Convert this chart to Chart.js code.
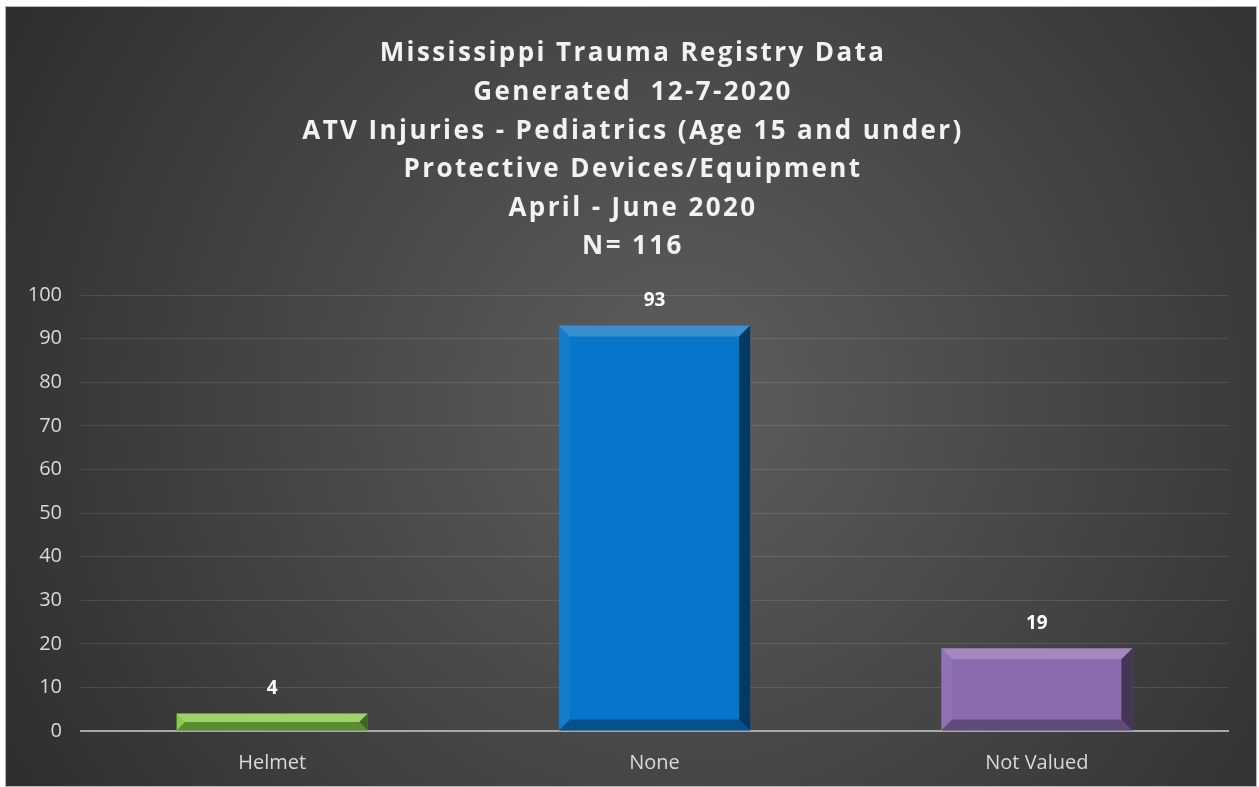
<!DOCTYPE html>
<html>
<head>
<meta charset="utf-8">
<script src="https://cdn.jsdelivr.net/npm/chart.js@4.4.1/dist/chart.umd.min.js"></script>
<style>
  html, body { margin: 0; padding: 0; background: #fff; }
  #wrap { position: absolute; left: 5px; top: 6px; width: 1252px; height: 781px; box-sizing: border-box; border: 1px solid #b5b5b5; }
  canvas { display: block; }
</style>
</head>
<body>
<div id="wrap"><canvas id="chart"></canvas></div>
<script>
// chart data
const categories = ['Helmet', 'None', 'Not Valued'];
const counts = [4, 93, 19];
const barColors = ['#84c846', '#0775c9', '#8a6bad'];
const yTicks = [0, 10, 20, 30, 40, 50, 60, 70, 80, 90, 100];
const titleLines = [
    'Mississippi Trauma Registry Data',
    'Generated  12-7-2020',
    'ATV Injuries - Pediatrics (Age 15 and under)',
    'Protective Devices/Equipment',
    'April - June 2020',
    'N= 116'
];

const FONT = '"Open Sans", "Liberation Sans", sans-serif';

// dark radial background behind everything
const backgroundPlugin = {
    id: 'bg',
    beforeDraw(chart) {
        const ctx = chart.ctx;
        const w = chart.width, h = chart.height;
        const g = ctx.createRadialGradient(w * 0.54, h * 0.5, 0, w * 0.54, h * 0.5, w * 0.62);
        g.addColorStop(0, '#5e5e5e');
        g.addColorStop(1, '#2e2e2e');
        ctx.save();
        ctx.fillStyle = g;
        ctx.fillRect(0, 0, w, h);
        ctx.restore();
    }
};

// title with letter spacing (Chart.js title has no letterSpacing option)
const titlePlugin = {
    id: 'spacedTitle',
    afterDraw(chart) {
        const ctx = chart.ctx;
        ctx.save();
        ctx.fillStyle = '#f2f2f2';
        ctx.font = 'bold 26px ' + FONT;
        ctx.letterSpacing = '2.4px';
        ctx.textAlign = 'center';
        ctx.textBaseline = 'middle';
        titleLines.forEach((line, i) => {
            ctx.fillText(line, chart.width / 2 + 2, 47 + i * 38.6);
        });
        ctx.restore();
    }
};

// bevel edges and value labels on the bars
const bevelPlugin = {
    id: 'bevel',
    afterDatasetsDraw(chart) {
        const ctx = chart.ctx;
        const meta = chart.getDatasetMeta(0);
        meta.data.forEach((bar, i) => {
            const l = bar.x - bar.width / 2, r = bar.x + bar.width / 2;
            const t = bar.y, b = bar.base;
            const s = Math.min(11, (b - t) / 2);
            ctx.save();
            // top
            ctx.fillStyle = 'rgba(255,255,255,0.2)';
            ctx.beginPath();
            ctx.moveTo(l, t); ctx.lineTo(r, t); ctx.lineTo(r - s, t + s); ctx.lineTo(l + s, t + s);
            ctx.fill();
            // left
            ctx.fillStyle = 'rgba(255,255,255,0.05)';
            ctx.beginPath();
            ctx.moveTo(l, t); ctx.lineTo(l + s, t + s); ctx.lineTo(l + s, b - s); ctx.lineTo(l, b);
            ctx.fill();
            // right
            ctx.fillStyle = 'rgba(0,0,0,0.5)';
            ctx.beginPath();
            ctx.moveTo(r, t); ctx.lineTo(r, b); ctx.lineTo(r - s, b - s); ctx.lineTo(r - s, t + s);
            ctx.fill();
            // bottom
            ctx.fillStyle = 'rgba(0,0,0,0.3)';
            ctx.beginPath();
            ctx.moveTo(l, b); ctx.lineTo(r, b); ctx.lineTo(r - s, b - s); ctx.lineTo(l + s, b - s);
            ctx.fill();
            // value label
            ctx.fillStyle = '#ffffff';
            ctx.font = 'bold 19px ' + FONT;
            ctx.textAlign = 'center';
            ctx.textBaseline = 'middle';
            ctx.fillText(String(counts[i]), bar.x, t - 25);
            ctx.restore();
        });
    }
};

new Chart(document.getElementById('chart'), {
    type: 'bar',
    data: {
        labels: categories,
        datasets: [{
            data: counts,
            backgroundColor: barColors,
            borderWidth: 0,
            barPercentage: 0.5,
            categoryPercentage: 1.0
        }]
    },
    options: {
        responsive: true,
        maintainAspectRatio: false,
        animation: false,
        events: [],
        layout: { padding: { top: 288, right: 28, left: 0, bottom: 0 } },
        plugins: {
            legend: { display: false },
            title: { display: false },
            tooltip: { enabled: false }
        },
        scales: {
            x: {
                grid: { display: false, drawTicks: false },
                border: { display: true, color: '#a9a9a9', width: 2 },
                ticks: { color: '#d9d9d9', font: { family: FONT, size: 20 }, padding: 20 },
                afterFit(scale) { scale.height = 55; }
            },
            y: {
                min: 0,
                max: 100,
                afterBuildTicks(scale) { scale.ticks = yTicks.map(v => ({ value: v })); },
                grid: { color: 'rgba(255,255,255,0.11)', lineWidth: 1, drawTicks: false },
                border: { display: false },
                ticks: { color: '#d9d9d9', font: { family: FONT, size: 20 }, padding: 19 },
                afterFit(scale) { scale.width = 75; }
            }
        }
    },
    plugins: [backgroundPlugin, bevelPlugin, titlePlugin]
});
</script>
</body>
</html>
